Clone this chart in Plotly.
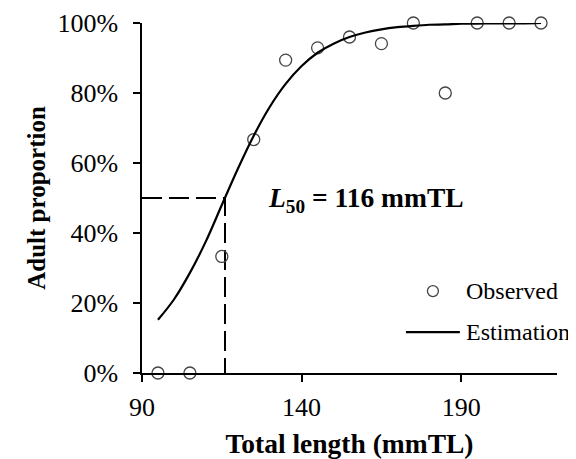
import plotly.graph_objects as go

# Observed adult proportion by total length class (mmTL)
obs_length = [95, 105, 115, 125, 135, 145, 155, 165, 175, 185, 195, 205, 215]
obs_prop = [0.0, 0.0, 0.333, 0.667, 0.894, 0.929, 0.960, 0.941, 1.0, 0.80, 1.0, 1.0, 1.0]

# Estimated (fitted) curve
est_length = [95, 100, 105, 110, 115, 120, 125, 130, 135, 140, 145, 150, 155,
              160, 165, 170, 175, 180, 185, 190, 195, 200, 205, 210, 215]
est_prop = [0.152, 0.210, 0.286, 0.376, 0.480, 0.583, 0.678, 0.760, 0.826, 0.877,
            0.915, 0.941, 0.960, 0.973, 0.982, 0.988, 0.992, 0.995, 0.996, 0.998,
            0.998, 0.999, 0.999, 0.999, 1.0]

# L50 reference
l50_length = [90, 116, 116]
l50_prop = [0.5, 0.5, 0.0]
l50_label = "<b><i>L</i><sub>50</sub> = 116 mmTL</b>"

x_ticks = [90, 140, 190]
y_ticks = [0, 0.2, 0.4, 0.6, 0.8, 1.0]
y_tick_text = ["0%", "20%", "40%", "60%", "80%", "100%"]

legend_names = ["Observed", "Estimation"]

FONT = "'Liberation Serif', 'Times New Roman', Times, serif"
MARK_COLOR = "#444444"

fig = go.Figure()

fig.add_trace(go.Scatter(
    x=l50_length, y=l50_prop, mode="lines",
    line=dict(color="black", width=2, dash="20px,7px"),
    showlegend=False, hoverinfo="skip", cliponaxis=False,
))

fig.add_trace(go.Scatter(
    x=obs_length, y=obs_prop, mode="markers", name=legend_names[0],
    marker=dict(symbol="circle-open", size=12, color=MARK_COLOR,
                line=dict(width=1.3, color=MARK_COLOR)),
    cliponaxis=False, showlegend=False,
))

fig.add_trace(go.Scatter(
    x=est_length, y=est_prop, mode="lines", name=legend_names[1],
    line=dict(color="black", width=2.2, shape="spline"),
    cliponaxis=False, showlegend=False,
))

fig.add_annotation(
    x=160.3, y=0.495, xref="x", yref="y", text=l50_label, showarrow=False,
    font=dict(family=FONT, size=27.5, color="black"),
)

# ---- legend (drawn in paper coordinates to mimic the original layout) ----
leg_obs_y = 0.234
leg_est_y = 0.117
leg_text_x = 0.777
# marker symbol
fig.add_shape(
    type="circle", xref="paper", yref="paper",
    xsizemode="pixel", ysizemode="pixel",
    xanchor=0.701, yanchor=leg_obs_y, x0=-5.5, x1=5.5, y0=-5.5, y1=5.5,
    line=dict(color=MARK_COLOR, width=1.3),
)
# line symbol
fig.add_shape(
    type="line", xref="paper", yref="paper",
    x0=0.636, x1=0.766, y0=leg_est_y, y1=leg_est_y,
    line=dict(color="black", width=2.2),
)
for name, yy in zip(legend_names, [leg_obs_y, leg_est_y]):
    fig.add_annotation(
        x=leg_text_x, y=yy, xref="paper", yref="paper", text=name,
        showarrow=False, xanchor="left", yanchor="middle",
        font=dict(family=FONT, size=24, color="black"),
    )

# page body adds an 8px margin, so the figure is sized to fit the window
fig.update_layout(
    width=568, height=451,
    margin=dict(l=134, r=19, t=15, b=86),
    paper_bgcolor="white", plot_bgcolor="white",
    font=dict(family=FONT, color="black", size=25),
    showlegend=False,
)

fig.update_xaxes(
    range=[90, 220], tickvals=x_ticks, ticks="outside", ticklen=7,
    tickwidth=1.5, tickcolor="black", showline=True, linecolor="black",
    linewidth=1.5, showgrid=False, zeroline=False, automargin=False,
    tickfont=dict(family=FONT, size=26), ticklabelstandoff=3,
    title=dict(text="<b>Total length (mmTL)</b>",
               font=dict(family=FONT, size=27.5), standoff=19),
)
fig.update_yaxes(
    range=[0, 1], tickvals=y_ticks, ticktext=y_tick_text, ticks="outside",
    ticklen=7, tickwidth=1.5, tickcolor="black", showline=True,
    linecolor="black", linewidth=1.5, showgrid=False, zeroline=False,
    automargin=False,
    tickfont=dict(family=FONT, size=26), ticklabelstandoff=10,
    title=dict(text="<b>Adult proportion</b>",
               font=dict(family=FONT, size=25), standoff=5),
)

fig.write_html("out.html")
